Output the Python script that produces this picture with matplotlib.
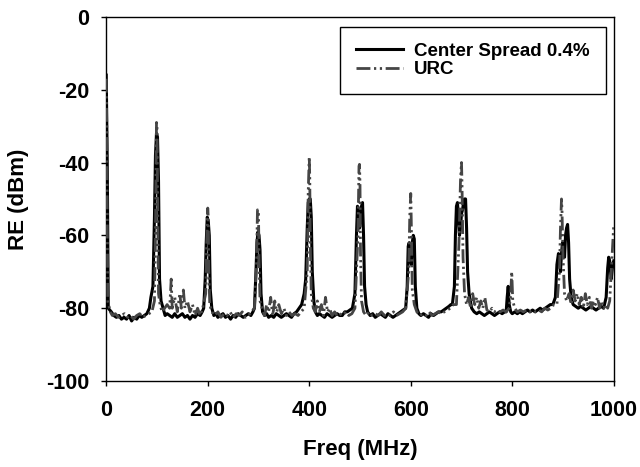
import matplotlib
matplotlib.use("Agg")
import matplotlib.pyplot as plt

plt.rcParams['font.family'] = ['Liberation Sans', 'DejaVu Sans']
plt.rcParams['font.weight'] = 'bold'
plt.rcParams['axes.unicode_minus'] = False

# Center Spread 0.4% (black solid): (freq MHz, dBm)
cs_points = [
    (0, -16), (2, -40), (4, -80), (10, -81), (15, -82), (20, -82.5), (25, -82), (30, -83), (35, -82.5), (40, -83),
    (45, -82), (50, -83.5), (55, -82.5), (60, -83), (65, -82), (70, -82.5), (75, -82), (80, -81.5), (85, -80), (88, -77),
    (92, -74), (95, -55), (97, -38), (99, -32), (101, -33), (103, -45), (105, -72), (108, -78),
    (112, -80), (116, -82), (120, -81.5), (125, -82), (130, -82.5), (135, -81.5), (140, -82.5), (145, -82), (150, -81.5),
    (155, -82.5), (160, -82), (165, -83), (170, -82), (175, -82.5), (180, -81.5), (185, -82), (189, -81), (192, -80),
    (195, -72), (197, -62), (199, -55), (201, -56), (203, -60), (205, -75), (208, -80),
    (212, -82), (216, -81.5), (220, -82.5), (225, -82), (230, -81.5), (235, -82.5), (240, -82), (245, -83), (250, -82),
    (255, -82.5), (260, -81.5), (265, -82), (270, -82.5), (275, -82), (280, -81.5), (285, -82), (289, -81), (292, -80),
    (295, -70), (297, -62), (299, -59), (301, -60), (303, -64), (305, -76), (308, -81),
    (312, -82), (316, -81.5), (320, -82.5), (325, -82), (330, -82.5), (335, -81.5), (340, -82), (345, -82.5), (350, -82),
    (355, -81.5), (360, -82), (365, -82.5), (370, -81.5), (375, -81), (380, -80), (385, -79), (390, -76), (393, -72),
    (396, -58), (398, -51), (400, -50), (402, -50), (404, -55), (406, -70), (409, -78), (412, -81),
    (416, -82), (420, -81.5), (425, -82), (430, -82.5), (435, -81.5), (440, -82), (445, -82.5), (450, -82), (455, -81.5),
    (460, -82), (465, -82), (470, -81), (475, -81), (480, -80.5), (485, -80), (490, -76),
    (493, -60), (495, -52), (497, -53), (499, -58), (501, -56), (503, -52), (505, -51), (507, -60), (509, -74), (512, -79),
    (515, -81), (520, -82), (525, -81.5), (530, -82.5), (535, -82), (540, -81.5), (545, -82), (550, -82.5), (555, -81.5),
    (560, -82), (565, -82.5), (570, -82), (575, -81.5), (580, -81), (585, -80.5), (590, -80), (593, -74),
    (595, -63), (597, -62), (599, -66), (601, -68), (603, -62), (605, -60), (607, -61), (609, -74), (612, -80),
    (616, -81.5), (620, -82), (625, -81.5), (630, -82), (635, -82.5), (640, -81.5), (645, -82), (650, -81.5), (655, -81),
    (660, -81), (665, -80.5), (670, -80), (675, -79.5), (679, -79), (682, -79), (686, -74),
    (688, -60), (690, -52), (692, -51), (694, -55), (696, -60), (698, -58), (700, -54), (702, -53), (704, -51), (706, -50),
    (708, -50), (710, -58), (712, -70), (715, -76), (720, -80), (725, -81), (730, -81.5),
    (735, -81), (740, -81.5), (745, -82), (750, -81.5), (755, -81), (760, -81.5), (765, -82), (770, -81.5), (775, -81),
    (780, -81.5), (785, -81), (788, -81), (790, -77), (792, -74), (794, -79), (797, -81), (800, -81.5), (805, -81),
    (810, -81.5), (815, -81), (820, -81.5), (825, -81), (830, -80.5), (835, -81), (840, -80.5), (845, -81), (850, -80.5),
    (855, -80), (860, -80.5), (865, -80), (870, -79.5), (875, -79), (880, -79), (885, -77),
    (888, -68), (891, -65), (893, -66), (895, -70), (897, -65), (899, -62), (901, -64), (903, -66), (905, -60), (907, -58),
    (909, -57), (911, -62), (913, -72), (916, -77), (920, -79), (925, -79.5), (930, -80), (935, -79.5), (940, -80),
    (945, -80.5), (950, -80), (955, -79.5), (960, -80), (965, -80.5), (970, -80), (975, -79.5), (980, -80), (985, -77),
    (988, -69), (990, -66), (992, -67), (995, -72), (998, -68), (1000, -67),
]

# URC (gray dash-dot): (freq MHz, dBm)
urc_points = [
    (0, -17), (1, -30), (3, -78), (8, -81), (12, -82), (18, -81.5), (24, -82.5), (30, -82), (36, -81.5), (42, -82.5),
    (48, -82), (54, -83), (60, -82), (66, -81.5), (72, -82.5), (78, -82), (84, -81.5), (90, -81), (95, -78), (97, -60),
    (99, -29), (100, -30), (101, -45), (103, -76), (106, -79), (110, -81), (115, -80), (120, -79), (125, -80), (128, -72),
    (130, -80), (135, -77), (140, -81), (145, -76), (148, -80), (152, -75), (155, -80), (160, -78), (165, -81), (170, -79),
    (175, -82), (180, -80), (185, -82), (190, -80), (196, -76), (198, -62), (200, -52.5), (201, -55), (202, -70),
    (204, -79), (208, -81), (214, -82), (220, -81), (226, -82.5), (232, -81.5), (238, -82), (244, -81), (250, -82.5),
    (256, -81.5), (262, -82), (268, -81), (274, -82.5), (280, -82), (286, -81), (292, -80), (296, -68), (298, -53),
    (300, -54), (301, -66), (303, -78), (307, -80), (312, -82), (316, -79), (320, -81), (324, -77), (328, -82), (332, -78),
    (336, -81), (340, -79), (345, -81.5), (350, -80), (355, -82), (360, -81), (366, -82), (372, -81.5), (378, -82),
    (384, -81), (390, -80), (396, -70), (398, -48), (400, -38.5), (401, -44), (402, -62), (404, -76), (408, -80),
    (412, -81), (416, -78), (420, -81), (424, -79), (428, -82), (432, -77), (436, -81), (440, -80), (445, -82), (450, -81),
    (455, -82), (460, -81.5), (466, -82), (472, -81), (478, -82), (484, -81.5), (490, -80), (496, -60), (498, -41),
    (499, -40.5), (500, -46), (501, -65), (503, -78), (507, -81), (512, -82), (518, -81), (524, -82), (530, -81.5),
    (536, -82), (542, -81), (548, -82), (554, -81.5), (560, -82), (566, -81), (572, -82), (578, -81.5), (584, -81),
    (590, -80), (596, -70), (598, -55), (600, -48.5), (601, -56), (603, -75), (607, -79), (612, -81), (618, -82),
    (624, -81.5), (630, -82), (636, -81), (642, -82), (648, -81.5), (654, -81), (660, -81.5), (666, -81), (672, -80.5),
    (678, -80), (684, -79), (690, -79), (695, -62), (698, -45), (700, -40), (701, -46), (703, -66), (706, -76), (710, -79),
    (714, -77), (718, -80), (722, -76), (726, -79), (730, -77), (734, -80), (738, -78), (742, -80), (746, -77),
    (750, -80.5), (755, -81), (760, -80), (765, -81), (770, -80.5), (776, -81), (782, -80.5), (788, -81), (794, -80),
    (797, -76), (799, -70), (801, -78), (805, -80), (810, -81), (816, -80.5), (822, -81), (828, -80.5), (834, -81),
    (840, -80.5), (846, -81), (852, -80.5), (858, -81), (864, -80), (870, -80.5), (876, -80), (882, -79), (888, -79),
    (893, -70), (895, -58), (897, -50), (898, -53), (900, -66), (903, -76), (907, -78), (912, -76), (916, -79), (920, -75),
    (924, -78), (928, -76), (932, -79), (936, -77), (940, -80), (944, -76), (948, -79), (952, -77), (956, -80), (960, -78),
    (964, -79), (968, -77), (972, -80), (976, -78), (980, -80), (984, -79), (988, -80), (992, -78), (995, -70), (998, -62),
    (1000, -57),
]

cs_freq = [p[0] for p in cs_points]
cs_dbm = [p[1] for p in cs_points]
urc_freq = [p[0] for p in urc_points]
urc_dbm = [p[1] for p in urc_points]

fig = plt.figure(figsize=(6.4, 4.67), dpi=100)
ax = fig.add_axes([0.166, 0.184, 0.793, 0.78])

ax.plot(cs_freq, cs_dbm, color='black', linewidth=2.2, label='Center Spread 0.4%', zorder=2)
ax.plot(urc_freq, urc_dbm, color='#454545', linewidth=2.0,
        linestyle=(0, (5, 1.3, 0.8, 1.3, 0.8, 1.3)), label='URC', zorder=3)

ax.set_xlim(0, 1000)
ax.set_ylim(-100, 0)
ax.set_xticks([0, 200, 400, 600, 800, 1000])
ax.set_yticks([0, -20, -40, -60, -80, -100])
ax.tick_params(axis='x', direction='out', length=3.5, width=1, labelsize=15.5, pad=10)
ax.tick_params(axis='y', direction='out', length=3.5, width=1, labelsize=15.5, pad=9)
for lab in ax.get_xticklabels() + ax.get_yticklabels():
    lab.set_fontweight('bold')
for sp in ax.spines.values():
    sp.set_color('black')
    sp.set_linewidth(1)

ax.set_xlabel('Freq (MHz)', fontsize=16, fontweight='bold', labelpad=13)
ax.set_ylabel('RE (dBm)', fontsize=16, fontweight='bold', labelpad=12)

leg = ax.legend(loc='upper right', fontsize=13.5, frameon=True, fancybox=False,
                edgecolor='black', framealpha=1, handlelength=2.5, handletextpad=0.6,
                borderpad=0.85, labelspacing=0.08, borderaxespad=0,
                bbox_to_anchor=(0.984, 0.973))
leg.get_frame().set_linewidth(1)
for t in leg.get_texts():
    t.set_fontweight('bold')

fig.savefig('out.png', dpi=100)
